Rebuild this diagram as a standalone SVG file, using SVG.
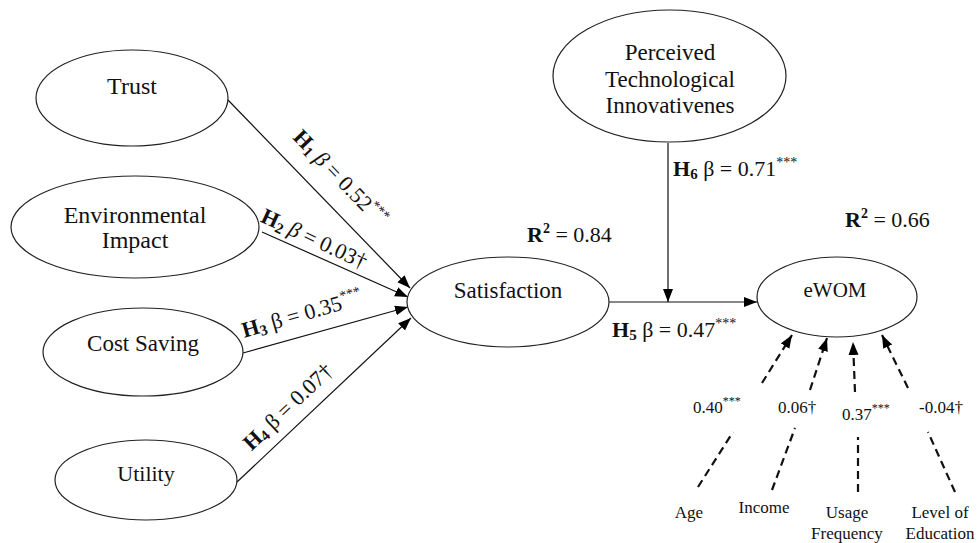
<svg xmlns="http://www.w3.org/2000/svg" width="977" height="543" viewBox="0 0 977 543" font-family="'Liberation Serif', 'Times New Roman', serif">
<defs>
<style>
text{font-family:"Liberation Serif","Times New Roman",serif;fill:#111;}
.node ellipse{fill:#fff;stroke:#222;stroke-width:1.2;}
.nt{font-size:23px;text-anchor:middle;}
.lab{font-size:22px;}
.small{font-size:17px;}
.b{font-weight:bold;}
.edge{stroke:#111;stroke-width:1.2;fill:none;}
.dash{stroke:#111;stroke-width:2.2;fill:none;stroke-dasharray:8 5;}
</style>
<marker id="ah" markerUnits="userSpaceOnUse" markerWidth="14" markerHeight="12" refX="13" refY="5" orient="auto">
<path d="M0,0 L13,5 L0,10 Z" fill="#000"/>
</marker>
</defs>
<rect width="977" height="543" fill="#fff"/>

<g id="connectors">
<line class="edge" x1="228" y1="100" x2="410" y2="288" marker-end="url(#ah)"/>
<line class="edge" x1="262" y1="232" x2="408" y2="297" marker-end="url(#ah)"/>
<line class="edge" x1="243" y1="353" x2="408" y2="307" marker-end="url(#ah)"/>
<line class="edge" x1="237" y1="482" x2="411" y2="318" marker-end="url(#ah)"/>
<line class="edge" x1="609" y1="302" x2="757" y2="302" marker-end="url(#ah)"/>
<line class="edge" x1="668" y1="143" x2="668" y2="302" marker-end="url(#ah)"/>
<line class="dash" x1="698" y1="487" x2="733" y2="432"/>
<line class="dash" x1="762" y1="383" x2="792" y2="335" marker-end="url(#ah)"/>
<line class="dash" x1="772" y1="490" x2="795" y2="428"/>
<line class="dash" x1="810" y1="390" x2="827" y2="338" marker-end="url(#ah)"/>
<line class="dash" x1="858" y1="492" x2="858" y2="437"/>
<line class="dash" x1="855" y1="392" x2="853" y2="342" marker-end="url(#ah)"/>
<line class="dash" x1="955" y1="492" x2="928" y2="432"/>
<line class="dash" x1="908" y1="388" x2="882" y2="335" marker-end="url(#ah)"/>
</g>

<g id="trust" class="node"><ellipse cx="132" cy="98" rx="96" ry="48"/><text class="nt" x="132" y="94" style="font-size:24px">Trust</text></g>
<g id="environmental" class="node"><ellipse cx="135" cy="227" rx="124" ry="51"/><text class="nt" x="135" y="223" style="font-size:24px">Environmental</text><text class="nt" x="135" y="248" style="font-size:24px">Impact</text></g>
<g id="costsaving" class="node"><ellipse cx="143" cy="352" rx="100" ry="44"/><text class="nt" x="143" y="351">Cost Saving</text></g>
<g id="utility" class="node"><ellipse cx="146" cy="480" rx="91" ry="40"/><text class="nt" x="146" y="481" style="font-size:22px">Utility</text></g>
<g id="satisfaction" class="node"><ellipse cx="508" cy="302" rx="101" ry="45"/><text class="nt" x="508" y="298">Satisfaction</text></g>
<g id="perceived" class="node"><ellipse cx="669.5" cy="76" rx="116.5" ry="66"/><text class="nt" x="670" y="60">Perceived</text><text class="nt" x="670" y="87">Technological</text><text class="nt" x="670" y="113">Innovativenes</text></g>
<g id="ewom" class="node"><ellipse cx="837" cy="297" rx="80" ry="40"/><text class="nt" x="835" y="297" style="font-size:21px">eWOM</text></g>

<g id="labels">
<text class="lab" text-anchor="middle" transform="translate(340,178) rotate(46)" y="7"><tspan class="b">H</tspan><tspan class="b" font-size="15" dy="3">1</tspan><tspan dy="-3" font-style="italic"> β</tspan> = 0.52<tspan font-size="14" dy="-9">***</tspan></text>
<text class="lab" text-anchor="middle" transform="translate(314,239) rotate(25)" y="7"><tspan class="b">H</tspan><tspan class="b" font-size="15" dy="3">2</tspan><tspan dy="-3" font-style="italic"> β</tspan> = 0.03†</text>
<text class="lab" text-anchor="middle" transform="translate(302,314) rotate(-16)" y="7"><tspan class="b">H</tspan><tspan class="b" font-size="15" dy="3">3</tspan><tspan dy="-3"> β</tspan> = 0.35<tspan font-size="14" dy="-9">***</tspan></text>
<text class="lab" text-anchor="middle" transform="translate(288,407) rotate(-43.5)" y="7"><tspan class="b">H</tspan><tspan class="b" font-size="15" dy="3">4</tspan><tspan dy="-3"> β</tspan> = 0.07†</text>
<text class="lab" x="673" y="176"><tspan class="b">H</tspan><tspan class="b" font-size="15" dy="3">6</tspan><tspan dy="-3"> β</tspan> = 0.71<tspan font-size="14" dy="-9">***</tspan></text>
<text class="lab" x="612" y="337"><tspan class="b">H</tspan><tspan class="b" font-size="15" dy="3">5</tspan><tspan dy="-3"> β</tspan> = 0.47<tspan font-size="14" dy="-9">***</tspan></text>
<text class="lab" x="527" y="242"><tspan class="b">R</tspan><tspan class="b" font-size="14" dy="-9">2</tspan><tspan dy="9"> = 0.84</tspan></text>
<text class="lab" x="845" y="227"><tspan class="b">R</tspan><tspan class="b" font-size="14" dy="-9">2</tspan><tspan dy="9"> = 0.66</tspan></text>
<text class="small" x="693" y="413">0.40<tspan font-size="12" dy="-8">***</tspan></text>
<text class="small" x="778" y="413">0.06†</text>
<text class="small" x="842" y="420">0.37<tspan font-size="12" dy="-8">***</tspan></text>
<text class="small" x="919" y="413">-0.04†</text>
<text class="small" text-anchor="middle" x="689" y="518">Age</text>
<text class="small" text-anchor="middle" x="764" y="513">Income</text>
<text class="small" text-anchor="middle" x="847" y="518">Usage</text>
<text class="small" text-anchor="middle" x="847" y="539">Frequency</text>
<text class="small" text-anchor="middle" x="940" y="518">Level of</text>
<text class="small" text-anchor="middle" x="940" y="539">Education</text>
</g>
</svg>
